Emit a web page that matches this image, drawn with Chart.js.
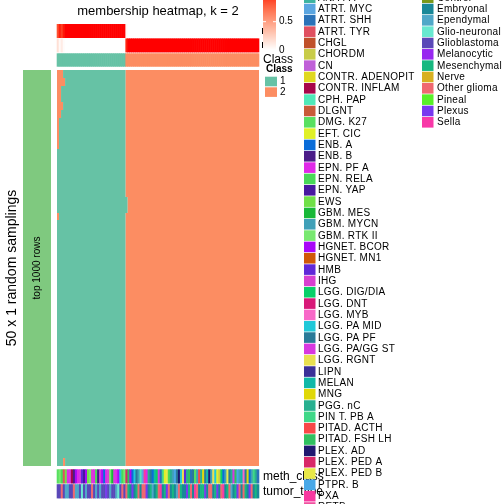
<!DOCTYPE html>
<html>
<head>
<meta charset="utf-8">
<script src="https://cdn.jsdelivr.net/npm/chart.js@4.4.0/dist/chart.umd.min.js"></script>
<style>
html,body{margin:0;padding:0;background:#fff;}
#wrap{width:504px;height:504px;position:relative;}
</style>
</head>
<body>
<div id="wrap"><canvas id="c" width="504" height="504"></canvas></div>
<script>
const N_COLS = 100;
const N_ROWS = 50;

// membership probability of class 1, one value per column
const prob1 = [
  0.84,0.97,0.90,0.98,1,1,1,1,1,1,
  1,1,1,1,1,1,1,1,1,1,
  1,1,1,1,1,1,1,1,1,1,
  1,1,1,1,0.04,0,0,0,0,0,
  0,0,0,0,0,0,0,0,0,0,
  0,0,0,0,0,0,0,0,0,0,
  0,0,0,0,0,0,0,0,0,0,
  0,0,0,0,0,0,0,0,0,0,
  0,0,0,0,0,0,0,0,0,0,
  0,0,0,0,0,0,0,0,0,0
];

// per random sampling (row): columns whose class differs from the consensus
const sampleFlips = [
  [0,1,2],[0,1,2,3],[0,1],[0,1],[0,1,2],[0,1],[0],[0],[0],[0],
  [],[],[],[],[],[],[34],[34],[0],[],
  [],[],[],[],[],[],[],[],[],[],
  [],[],[],[],[],[],[],[],[],[],
  [],[],[],[],[],[],[],[],[],[3]
];

const classColors = {1:'#66C2A5', 2:'#FC8D62'};

const methNames = ['ANA PA','ATRT. MYC','ATRT. SHH','ATRT. TYR','CHGL','CHORDM','CN',
  'CONTR. ADENOPIT','CONTR. INFLAM','CPH. PAP','DLGNT','DMG. K27','EFT. CIC','ENB. A','ENB. B',
  'EPN. PF A','EPN. RELA','EPN. YAP','EWS','GBM. MES','GBM. MYCN','GBM. RTK II','HGNET. BCOR',
  'HGNET. MN1','HMB','IHG','LGG. DIG/DIA','LGG. DNT','LGG. MYB','LGG. PA MID','LGG. PA PF',
  'LGG. PA/GG ST','LGG. RGNT','LIPN','MELAN','MNG','PGG. nC','PIN T. PB A','PITAD. ACTH',
  'PITAD. FSH LH','PLEX. AD','PLEX. PED A','PLEX. PED B','PTPR. B','PXA','RETB'];
const methColors = ['#3cb3a0','#5aa5e0','#2a72b8','#e05060','#c0502a','#c8cc48','#c060d8',
  '#e0d820','#a8064a','#50e8b8','#c85a38','#58e060','#e0f028','#0a6cd8','#4a1c88',
  '#e028e8','#48d858','#4818a0','#70e048','#18b838','#40a0b8','#78e870','#a808f8',
  '#d05808','#6028d8','#d840d0','#08d068','#d81878','#f868c8','#20c8d8','#2a7a98',
  '#d838e0','#e8e050','#3a3098','#10b8a8','#e0d808','#28b090','#40d888','#f84848',
  '#30c060','#201870','#d82868','#e8e848','#48a8e8','#f838a0','#f050a0'];

const tumorNames = ['Control','Embryonal','Ependymal','Glio-neuronal','Glioblastoma','Melanocytic',
  'Mesenchymal','Nerve','Other glioma','Pineal','Plexus','Sella'];
const tumorColors = ['#7a9818','#1a8898','#50a8c8','#68e8d0','#5a48b8','#9828f0',
  '#18b880','#d8b020','#f06870','#58f028','#7838f0','#f838a8'];

// index into methNames, one per column
const methClass = [
  11,21,16,3,18,15,31,8,14,22,
  15,31,24,17,22,18,21,25,15,16,
  14,31,22,13,15,25,21,19,31,15,
  22,29,16,21,
  41,39,22,13,29,30,20,9,1,44,
  15,36,30,13,34,26,31,2,37,12,
  42,16,36,20,43,30,40,29,32,24,
  36,39,2,30,11,20,38,36,35,30,
  34,40,20,32,29,12,5,26,13,20,
  42,30,36,31,39,43,20,34,28,30,
  35,13,20,37,36,2
];
// index into tumorNames, one per column
const tumorType = [
  4,4,8,4,2,2,4,4,8,2,
  2,4,3,4,2,4,4,8,4,2,
  4,2,4,4,10,4,2,4,4,2,
  3,4,8,4,
  8,6,1,10,1,6,8,1,8,8,
  10,1,6,2,1,6,8,11,1,6,
  10,8,1,6,1,2,8,6,1,1,
  10,6,8,1,11,8,1,6,6,10,
  1,8,8,1,6,10,1,8,11,1,
  6,8,2,1,6,10,8,1,8,6,
  1,10,8,1,6,1
];

const FONT = '"Liberation Sans", Arial, Helvetica, sans-serif';

// white -> red in LAB space (like circlize colorRamp2)
function lab2rgb(L, a, b){
  let y = (L + 16) / 116, x = a / 500 + y, z = y - b / 200;
  const f = t => (t*t*t > 0.008856 ? t*t*t : (t - 16/116) / 7.787);
  x = 0.95047 * f(x); y = f(y); z = 1.08883 * f(z);
  let r = x*3.2406 + y*-1.5372 + z*-0.4986;
  let g = x*-0.9689 + y*1.8758 + z*0.0415;
  let bl = x*0.0557 + y*-0.2040 + z*1.0570;
  const gm = v => { v = v > 0.0031308 ? 1.055*Math.pow(v, 1/2.4) - 0.055 : 12.92*v; return Math.round(Math.max(0, Math.min(1, v))*255); };
  return `rgb(${gm(r)},${gm(g)},${gm(bl)})`;
}
function probColor(p){
  return lab2rgb(100 + (53.24 - 100)*p, 80.09*p, 67.20*p);
}

const heatmapPlugin = {
  id: 'heatmap',
  afterDraw(chart){
    const ctx = chart.ctx;
    const xs = chart.scales.x, ys = chart.scales.y;
    const X = c => xs.getPixelForValue(c);
    const Y = r => ys.getPixelForValue(r);
    const area = chart.chartArea;
    const consensus = prob1.map(p => (p >= 0.5 ? 1 : 2));
    ctx.save();

    // main heatmap: runs of equal colour per row
    for(let r=0;r<N_ROWS;r++){
      const flips = sampleFlips[r] || [];
      const cls = consensus.map((c,i) => flips.includes(i) ? (c===1?2:1) : c);
      let start = 0;
      for(let i=1;i<=N_COLS;i++){
        if(i===N_COLS || cls[i]!==cls[start]){
          ctx.fillStyle = classColors[cls[start]];
          const y0 = Math.round(Y(r)), y1 = Math.round(Y(r+1));
          ctx.fillRect(X(start), y0, X(i)-X(start), y1-y0);
          start = i;
        }
      }
    }

    // column strips
    const strip = (y0, y1, colorOf) => {
      for(let i=0;i<N_COLS;i++){
        ctx.fillStyle = colorOf(i);
        ctx.fillRect(X(i)-0.3, y0, X(i+1)-X(i)+0.6, y1-y0);
      }
    };
    strip(24, 38, i => probColor(prob1[i]));
    strip(38.4, 52.4, i => probColor(1 - prob1[i]));
    strip(53.3, 66.7, i => classColors[consensus[i]]);
    strip(469.3, 483.5, i => methColors[methClass[i]]);
    strip(484.2, 498.4, i => tumorColors[tumorType[i]]);

    // left row-group bar
    ctx.fillStyle = '#7FC97F';
    ctx.fillRect(23, area.top, 28, area.bottom - area.top);

    ctx.fillStyle = '#000';
    ctx.textBaseline = 'middle';
    // title
    ctx.font = '13px ' + FONT;
    ctx.textAlign = 'center';
    ctx.fillText('membership heatmap, k = 2', (area.left + area.right)/2, 11);

    // rotated labels
    ctx.save();
    ctx.translate(12, (area.top + area.bottom)/2);
    ctx.rotate(-Math.PI/2);
    ctx.font = '14px ' + FONT;
    ctx.fillText('50 x 1 random samplings', 0, 0);
    ctx.restore();
    ctx.save();
    ctx.translate(37, (area.top + area.bottom)/2);
    ctx.rotate(-Math.PI/2);
    ctx.font = '10px ' + FONT;
    ctx.fillText('top 1000 rows', 0, 0);
    ctx.restore();

    // annotation names
    ctx.textAlign = 'left';
    ctx.fillRect(262, 28, 1.3, 6);
    ctx.fillRect(262, 42, 1.3, 6);
    ctx.font = '12px ' + FONT;
    ctx.fillText('Class', 263, 60);
    ctx.fillText('meth_class', 263, 476.5);
    ctx.fillText('tumor_type', 263, 491.5);

    // probability colour bar
    const cbTop = 50 - 56.6, cbBottom = 50;
    for(let y=Math.floor(cbTop); y<cbBottom; y++){
      const v = (cbBottom - (y + 0.5)) / (cbBottom - cbTop);
      ctx.fillStyle = probColor(v);
      ctx.fillRect(263, y, 13, 1);
    }
    ctx.fillStyle = '#fff';
    [0.5].forEach(v => {
      const y = cbBottom - v*(cbBottom - cbTop);
      ctx.fillRect(263, y-0.5, 3, 1);
      ctx.fillRect(273, y-0.5, 3, 1);
    });
    ctx.fillStyle = '#000';
    ctx.font = '10px ' + FONT;
    ctx.fillText('0.5', 279, cbBottom - 0.5*(cbBottom - cbTop));
    ctx.fillText('0', 279, cbBottom);

    // Class legend
    ctx.font = 'bold 10px ' + FONT;
    ctx.fillText('Class', 266, 69);
    ctx.font = '10px ' + FONT;
    [1,2].forEach((k, j) => {
      const y = 76.7 + j*10.6;
      ctx.fillStyle = classColors[k];
      ctx.fillRect(265, y, 12, 9.6);
      ctx.fillStyle = '#000';
      ctx.fillText(String(k), 280, y + 5);
    });

    // discrete legends
    const legendCol = (names, colors, sx, tx) => {
      names.forEach((n, i) => {
        const y = -8.03 + i*11.33;
        ctx.fillStyle = colors[i];
        ctx.fillRect(sx, y + 0.4, 11.5, 10.6);
        ctx.fillStyle = '#000';
        ctx.fillText(n, tx, y + 5.9);
      });
    };
    ctx.font = '10px ' + FONT;
    if('letterSpacing' in ctx) ctx.letterSpacing = '0.3px';
    legendCol(methNames, methColors, 304, 318);
    legendCol(tumorNames, tumorColors, 422, 437);

    ctx.restore();
  }
};

new Chart(document.getElementById('c').getContext('2d'), {
  type: 'scatter',
  data: { datasets: [{ data: [] }] },
  options: {
    responsive: false,
    animation: false,
    devicePixelRatio: 1,
    layout: { padding: { left: 57, right: 245, top: 70, bottom: 38 } },
    plugins: { legend: { display: false }, tooltip: { enabled: false } },
    scales: {
      x: { type: 'linear', min: 0, max: N_COLS, display: false },
      y: { type: 'linear', min: 0, max: N_ROWS, reverse: true, display: false }
    }
  },
  plugins: [heatmapPlugin]
});
</script>
</body>
</html>
